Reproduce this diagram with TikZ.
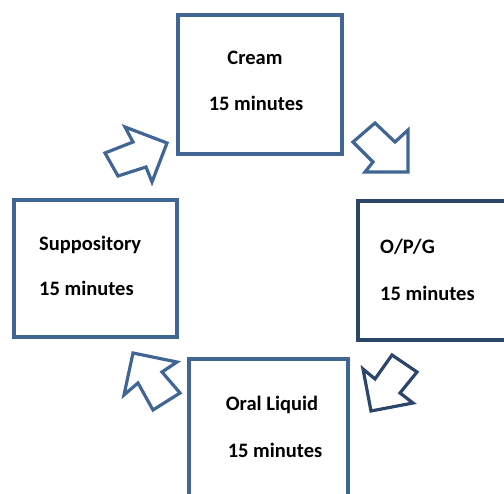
\documentclass[tikz,border=0pt]{standalone}
\usepackage{fontspec}
\setmainfont{Carlito}
\definecolor{boxblue}{RGB}{66,102,148}
\definecolor{darkblue}{RGB}{44,70,106}
\tikzset{
  stepbox/.style={draw=boxblue, line width=3.2pt, rectangle, inner sep=0pt},
  lbl/.style={font=\bfseries\fontsize{20.5}{24}\selectfont, inner sep=0pt, text=black},
  blockarrow/.style={draw=boxblue, line width=3.2pt, line join=miter, fill=white},
}
\begin{document}
\begin{tikzpicture}[x=1pt,y=-1pt]
\useasboundingbox[fill=white] (0,0) rectangle (504,494);
% boxes
\draw[stepbox] (178,15) rectangle (342,154) coordinate (creambox);
\draw[stepbox, draw=darkblue] (358,201) rectangle (515,340) coordinate (opgbox);
\draw[stepbox] (14,200) rectangle (177,337) coordinate (suppbox);
\draw[stepbox] (189,359) rectangle (348,510) coordinate (oralbox);
% labels
\node[lbl] (cream) at (255,58) {Cream};
\node[lbl] (creamt) at (256,103) {15 minutes};
\node[lbl, anchor=west] (opg) at (380,247) {O/P/G};
\node[lbl, anchor=west] (opgt) at (380,293) {15 minutes};
\node[lbl, anchor=west] (supp) at (39,245) {Suppository};
\node[lbl, anchor=west] (suppt) at (39,288) {15 minutes};
\node[lbl] (oral) at (272,405) {Oral Liquid};
\node[lbl] (oralt) at (275,450) {15 minutes};
% block arrows
\draw[blockarrow] (353,142) -- (375,123) -- (395,142) -- (408,130) -- (408,172) -- (365,172) -- (373,162) -- cycle;
\draw[blockarrow, draw=darkblue] (392,355) -- (417,372) -- (400,393) -- (413,403) -- (371,411) -- (363,369) -- (375,379) -- cycle;
\draw[blockarrow] (180,393) -- (153,410) -- (138,383) -- (124,395) -- (133,353) -- (177,362) -- (162,372) -- cycle;
\draw[blockarrow] (105,153) -- (118,176) -- (146,167) -- (152,182) -- (167,143) -- (125,127) -- (133,142) -- cycle;
\end{tikzpicture}
\end{document}
